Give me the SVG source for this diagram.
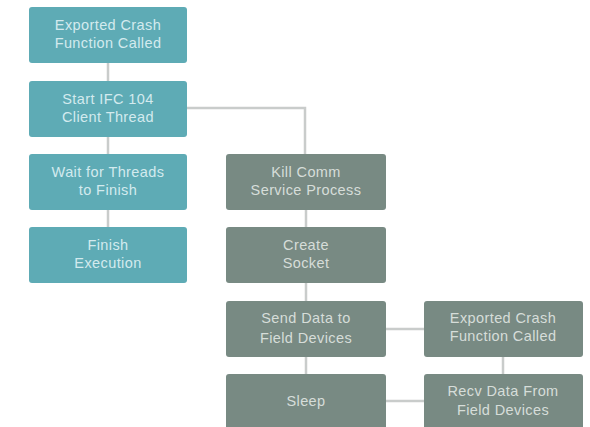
<svg xmlns="http://www.w3.org/2000/svg" width="590" height="427" viewBox="0 0 590 427">
<style>
.t{fill:#5eabb5}
.g{fill:#788a83}
text{font-family:"Liberation Sans",Arial,sans-serif;font-size:14.5px;letter-spacing:0.4px;text-anchor:middle}
.tt{fill:#d3eaee}
.gt{fill:#d6ddd9}
.c{stroke:#c9cccb;stroke-width:2.5;fill:none}
</style>
<rect width="590" height="427" fill="#ffffff"/>
<g id="connectors">
<path class="c" d="M108 63V81M108 137V154M108 210V227M187 108H305V154M306 210V227M306 283V301M306 357V374M386 329H424M503 357V374M386 401H424"/>
</g>
<g id="n1"><rect class="t" x="29" y="7" width="158" height="56" rx="3"/><text class="tt" x="108" y="30">Exported Crash</text><text class="tt" x="108" y="48">Function Called</text></g>
<g id="n2"><rect class="t" x="29" y="81" width="158" height="56" rx="3"/><text class="tt" x="108" y="104">Start IFC 104</text><text class="tt" x="108" y="122">Client Thread</text></g>
<g id="n3"><rect class="t" x="29" y="154" width="158" height="56" rx="3"/><text class="tt" x="108" y="177">Wait for Threads</text><text class="tt" x="108" y="195">to Finish</text></g>
<g id="n4"><rect class="t" x="29" y="227" width="158" height="56" rx="3"/><text class="tt" x="108" y="250">Finish</text><text class="tt" x="108" y="268">Execution</text></g>
<g id="n5"><rect class="g" x="226" y="154" width="160" height="56" rx="3"/><text class="gt" x="306" y="177">Kill Comm</text><text class="gt" x="306" y="195">Service Process</text></g>
<g id="n6"><rect class="g" x="226" y="227" width="160" height="56" rx="3"/><text class="gt" x="306" y="250">Create</text><text class="gt" x="306" y="268">Socket</text></g>
<g id="n7"><rect class="g" x="226" y="301" width="160" height="56" rx="3"/><text class="gt" x="306" y="323">Send Data to</text><text class="gt" x="306" y="343">Field Devices</text></g>
<g id="n8"><rect class="g" x="226" y="374" width="160" height="60" rx="3"/><text class="gt" x="306" y="406">Sleep</text></g>
<g id="n9"><rect class="g" x="424" y="301" width="159" height="56" rx="3"/><text class="gt" x="503" y="323">Exported Crash</text><text class="gt" x="503" y="341">Function Called</text></g>
<g id="n10"><rect class="g" x="424" y="374" width="159" height="60" rx="3"/><text class="gt" x="503" y="396">Recv Data From</text><text class="gt" x="503" y="415">Field Devices</text></g>
</svg>
